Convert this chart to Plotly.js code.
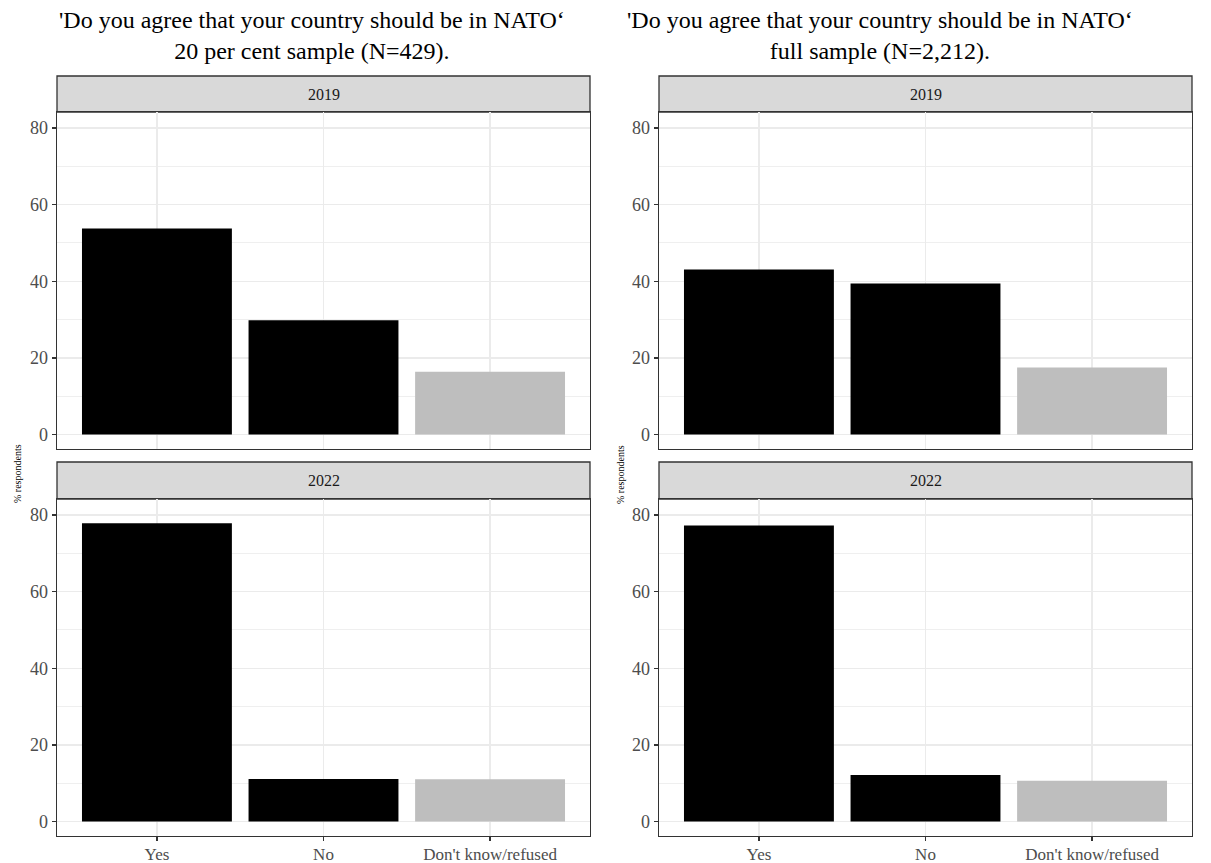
<!DOCTYPE html>
<html>
<head>
<meta charset="utf-8">
<script src="https://cdn.plot.ly/plotly-3.0.1.min.js"></script>
<style>html,body{margin:0;padding:0;background:#fff;}#chart{width:1211px;height:863px;}</style>
</head>
<body>
<div id="chart"></div>
<script>
// ---- data ----
const categories = ['Yes', 'No', "Don't know/refused"];
const facetYears = ['2019', '2022'];
const sample20_2019 = [53.8, 29.8, 16.4];
const sample20_2022 = [77.9, 11.1, 11.0];
const full_2019 = [43.1, 39.4, 17.5];
const full_2022 = [77.3, 12.1, 10.6];
const barColors = ['#000000', '#000000', '#BEBEBE'];
const panelTitles = [
  "'Do you agree that your country should be in NATO‘<br>20 per cent sample (N=429).",
  "'Do you agree that your country should be in NATO‘<br>full sample (N=2,212)."
];
const yTicks = [0, 20, 40, 60, 80];
const yAxisTitle = '% respondents';

// ---- layout geometry (pixels) ----
const W = 1211, H = 863;
const px = v => v / W;
const py = v => (H - v) / H;
const colX = [[57, 590], [659, 1192]];
const rowPlot = [[112, 449], [499, 836]];
const rowStrip = [[76, 112], [462, 499]];

const FONT = 'Liberation Serif, Times New Roman, serif';
const seriesByPanel = [[sample20_2019, sample20_2022], [full_2019, full_2022]];

const data = [];
const layout = {
  width: W, height: H,
  margin: {l: 0, r: 0, t: 0, b: 0},
  paper_bgcolor: '#ffffff',
  plot_bgcolor: '#ffffff',
  showlegend: false,
  bargap: 0.1,
  font: {family: FONT, color: '#4D4D4D'},
  shapes: [],
  annotations: []
};

let idx = 1;
for (let c = 0; c < 2; c++) {
  for (let r = 0; r < 2; r++) {
    const xa = 'x' + (idx === 1 ? '' : idx);
    const ya = 'y' + (idx === 1 ? '' : idx);
    data.push({
      type: 'bar',
      x: categories,
      y: seriesByPanel[c][r],
      xaxis: xa, yaxis: ya,
      width: 0.9,
      marker: {color: barColors, line: {width: 0}},
      hoverinfo: 'x+y'
    });
    const xKey = 'xaxis' + (idx === 1 ? '' : idx);
    const yKey = 'yaxis' + (idx === 1 ? '' : idx);
    layout[xKey] = {
      domain: [px(colX[c][0]), px(colX[c][1])],
      anchor: ya,
      type: 'category',
      categoryorder: 'array',
      categoryarray: categories,
      range: [-0.6, 2.6],
      showgrid: true, gridcolor: '#EBEBEB', gridwidth: 1.5,
      showline: true, linecolor: '#333333', linewidth: 1.3, mirror: true,
      ticks: r === 1 ? 'outside' : '', ticklen: 4, tickcolor: '#333333', tickwidth: 1.3,
      showticklabels: r === 1,
      ticklabelstandoff: -2,
      tickfont: {family: FONT, size: 17, color: '#4D4D4D'},
      zeroline: false, fixedrange: true
    };
    layout[yKey] = {
      domain: [py(rowPlot[r][1]), py(rowPlot[r][0])],
      anchor: xa,
      range: [-3.8, 84.2],
      tickvals: yTicks,
      showgrid: true, gridcolor: '#EBEBEB', gridwidth: 1.5,
      minor: {tickvals: [10, 30, 50, 70], showgrid: true, gridcolor: '#EBEBEB', gridwidth: 0.8, ticks: ''},
      showline: true, linecolor: '#333333', linewidth: 1.3, mirror: true,
      ticks: 'outside', ticklen: 4, tickcolor: '#333333', tickwidth: 1.3,
      tickfont: {family: FONT, size: 18, color: '#4D4D4D'},
      zeroline: false, fixedrange: true
    };
    // strip
    layout.shapes.push({
      type: 'rect', xref: 'paper', yref: 'paper',
      x0: px(colX[c][0]), x1: px(colX[c][1]),
      y0: py(rowStrip[r][1]), y1: py(rowStrip[r][0]),
      fillcolor: '#D9D9D9', line: {color: '#333333', width: 1.3}, layer: 'below'
    });
    layout.annotations.push({
      xref: 'paper', yref: 'paper',
      x: px((colX[c][0] + colX[c][1]) / 2),
      y: py((rowStrip[r][0] + rowStrip[r][1]) / 2),
      text: facetYears[r], showarrow: false,
      xanchor: 'center', yanchor: 'middle',
      font: {family: FONT, size: 16, color: '#1A1A1A'}
    });
    idx++;
  }
  // panel title
  layout.annotations.push({
    xref: 'paper', yref: 'paper',
    x: px(c === 0 ? 312 : 880), y: py(5),
    text: panelTitles[c], showarrow: false,
    xanchor: 'center', yanchor: 'top', align: 'center',
    font: {family: FONT, size: 24, color: '#000000'}
  });
  // y-axis title
  layout.annotations.push({
    xref: 'paper', yref: 'paper',
    x: px(c === 0 ? 17 : 620), y: py(474),
    text: yAxisTitle, showarrow: false, textangle: -90,
    xanchor: 'center', yanchor: 'middle',
    font: {family: FONT, size: 10, color: '#000000'}
  });
}

Plotly.newPlot('chart', data, layout, {displayModeBar: false, staticPlot: true});
</script>
</body>
</html>
